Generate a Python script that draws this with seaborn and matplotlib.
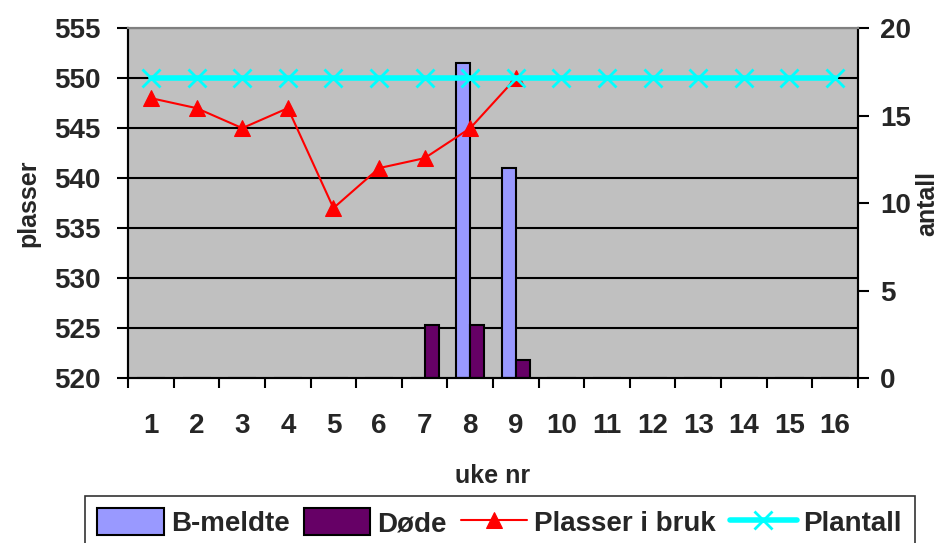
import numpy as np
import pandas as pd
import seaborn as sns
import matplotlib.pyplot as plt

# data
weeks = list(range(1, 17))
b_meldte = [0, 0, 0, 0, 0, 0, 0, 18, 12, 0, 0, 0, 0, 0, 0, 0]
dode = [0, 0, 0, 0, 0, 0, 3, 3, 1, 0, 0, 0, 0, 0, 0, 0]
plasser_i_bruk = [548, 547, 545, 547, 537, 541, 542, 545, 550]
plantall = [550] * 16

sns.set_theme(style="white")
plt.rcParams['font.family'] = ['Liberation Sans', 'DejaVu Sans']
plt.rcParams['font.weight'] = 'bold'

bars = pd.DataFrame({
    'uke': [str(w) for w in weeks] * 2,
    'antall': b_meldte + dode,
    'serie': ['B-meldte'] * len(weeks) + ['Døde'] * len(weeks),
})

fig = plt.figure(figsize=(9.5, 5.43), dpi=100)
ax = fig.add_axes([0.135, 0.304, 0.768, 0.644])
ax.set_facecolor('#C0C0C0')

# gridlines follow the left (plasser) scale; bars live on the 0-20 scale
plasser_lim = (520, 555)
antall_lim = (0, 20)
for v in range(525, 556, 5):
    g = (v - plasser_lim[0]) / (plasser_lim[1] - plasser_lim[0]) * antall_lim[1]
    ax.axhline(g, color='black', lw=1.5, zorder=0.5)

sns.barplot(data=bars, x='uke', y='antall', hue='serie',
            palette={'B-meldte': '#9999FF', 'Døde': '#660066'},
            saturation=1, edgecolor='black', linewidth=1.5, width=0.62,
            ax=ax, zorder=2, legend=True)
ax.set_ylim(*antall_lim)
ax.set_xlim(-0.5, len(weeks) - 0.5)

ax2 = ax.twinx()
pos = np.arange(len(weeks))
sns.lineplot(x=pos[:len(plasser_i_bruk)], y=plasser_i_bruk, color='red',
             marker='^', markersize=11, markeredgecolor='red', lw=1.5,
             label='Plasser i bruk', ax=ax2, zorder=3)
sns.lineplot(x=pos, y=plantall, color='#00FFFF', marker='x', markersize=13,
             markeredgewidth=2, markeredgecolor='#00FFFF', lw=4,
             label='Plantall', ax=ax2, zorder=4)
ax2.set_ylim(*plasser_lim)
ax2.set_yticks(range(520, 556, 5))
ax2.set_xlim(-0.5, len(weeks) - 0.5)

# swap sides: bars (antall) scale on the right, plasser on the left
ax.yaxis.tick_right()
ax.yaxis.set_label_position('right')
ax.set_yticks(range(0, 21, 5))
ax.set_ylabel('antall', fontsize=18, fontweight='bold', labelpad=3)
ax.set_xlabel('uke nr', fontsize=18, fontweight='bold', labelpad=18)
ax2.yaxis.tick_left()
ax2.yaxis.set_label_position('left')
ax2.set_ylabel('plasser', fontsize=18, fontweight='bold', labelpad=10)

# ticks: labels centred, tick marks between categories
ax.set_xticks(pos)
ax.set_xticklabels([str(w) for w in weeks])
ax.set_xticks(np.arange(-0.5, len(weeks)), minor=True)
ax.tick_params(axis='x', which='major', length=0, labelsize=20, pad=25)
ax.tick_params(axis='x', which='minor', length=7, width=1.5, color='black',
               direction='out', bottom=True)
ax.tick_params(axis='y', length=8, width=1.5, color='black', direction='out',
               labelsize=20, pad=8, right=True, left=False, labelright=True,
               labelleft=False)
ax2.tick_params(axis='y', length=8, width=1.5, color='black', direction='out',
                labelsize=20, pad=12, left=True, right=False, labelleft=True,
                labelright=False)
for a in (ax, ax2):
    for lbl in a.get_xticklabels() + a.get_yticklabels():
        lbl.set_fontweight('bold')
    for s in ('left', 'right', 'bottom'):
        a.spines[s].set_color('black')
        a.spines[s].set_linewidth(1.5)
    a.spines['top'].set_color('#808080')
    a.spines['top'].set_linewidth(1.5)

h1, l1 = ax.get_legend_handles_labels()
h2, l2 = ax2.get_legend_handles_labels()
ax.get_legend().remove()
ax2.get_legend().remove()
leg = fig.legend(h1 + h2, l1 + l2, loc='lower center', ncol=4,
                 bbox_to_anchor=(0.526, -0.038), frameon=True, fancybox=False,
                 fontsize=20, handlelength=2.4, handleheight=1.1,
                 columnspacing=0.5, handletextpad=0.25, borderpad=0.45)
leg.get_frame().set_edgecolor('black')
leg.get_frame().set_linewidth(1.2)
for t in leg.get_texts():
    t.set_fontweight('bold')

fig.savefig('out.png', dpi=100)
